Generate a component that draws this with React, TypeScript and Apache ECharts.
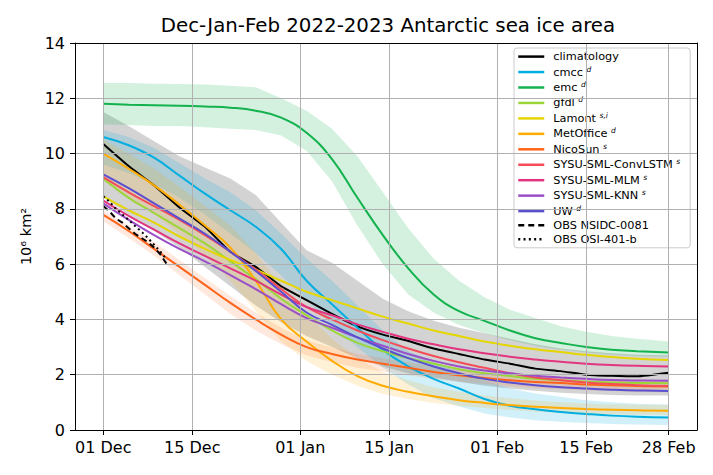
import React, { useEffect, useRef } from 'react';
import * as echarts from 'echarts';

// Day index from 01 Dec (0) to 28 Feb (89)
const DAYS = [0, 4, 8, 12, 16, 20, 24, 28, 32, 36, 40, 44, 48, 52, 56, 60, 64, 68, 72, 76, 80, 84, 89];
const X_TICKS = [0, 14, 31, 45, 62, 76, 89];
const X_TICK_LABELS = ['01 Dec', '15 Dec', '01 Jan', '15 Jan', '01 Feb', '15 Feb', '28 Feb'];

const CLIMATOLOGY = [10.35, 9.55, 8.85, 8.05, 7.35, 6.45, 5.9, 5.2, 4.7, 4.2, 3.75, 3.45, 3.22, 2.95, 2.75, 2.55, 2.4, 2.22, 2.13, 2.0, 1.96, 1.94, 2.07];
const CMCC = [10.6, 10.3, 9.85, 9.2, 8.55, 7.95, 7.35, 6.55, 5.4, 4.55, 3.7, 2.9, 2.3, 1.85, 1.5, 1.12, 0.88, 0.75, 0.65, 0.58, 0.52, 0.48, 0.45];
const EMC = [11.8, 11.77, 11.75, 11.73, 11.7, 11.66, 11.55, 11.3, 10.75, 9.8, 8.4, 7.05, 5.85, 4.9, 4.3, 3.95, 3.6, 3.32, 3.15, 3.0, 2.9, 2.85, 2.8];
const GFDL = [9.1, 8.4, 7.85, 7.3, 6.75, 6.1, 5.45, 4.75, 4.15, 3.6, 3.15, 2.85, 2.6, 2.4, 2.2, 2.05, 1.95, 1.85, 1.8, 1.75, 1.72, 1.7, 1.69];
const LAMONT = [8.45, 7.95, 7.5, 7.0, 6.55, 6.15, 5.8, 5.4, 5.0, 4.7, 4.4, 4.1, 3.85, 3.6, 3.4, 3.2, 3.05, 2.92, 2.82, 2.72, 2.64, 2.58, 2.53];
const METOFFICE = [10.0, 9.45, 8.85, 8.15, 7.4, 6.6, 5.4, 4.0, 3.2, 2.5, 1.95, 1.6, 1.38, 1.22, 1.08, 0.98, 0.9, 0.84, 0.8, 0.76, 0.73, 0.71, 0.7];
const NICOSUN = [7.78, 7.2, 6.55, 5.9, 5.25, 4.6, 4.0, 3.45, 3.0, 2.75, 2.55, 2.4, 2.25, 2.1, 1.98, 1.88, 1.8, 1.74, 1.7, 1.65, 1.62, 1.59, 1.57];
const CONVLSTM = [9.15, 8.6, 8.1, 7.6, 7.05, 6.45, 5.8, 5.1, 4.45, 4.0, 3.6, 3.25, 2.95, 2.68, 2.45, 2.25, 2.05, 1.9, 1.8, 1.72, 1.66, 1.62, 1.59];
const MLM = [8.3, 7.75, 7.25, 6.75, 6.3, 5.85, 5.4, 4.9, 4.45, 4.15, 3.82, 3.55, 3.3, 3.1, 2.92, 2.78, 2.65, 2.55, 2.47, 2.4, 2.35, 2.32, 2.3];
const KNN = [8.2, 7.6, 7.05, 6.55, 6.1, 5.6, 5.1, 4.55, 4.05, 3.7, 3.35, 3.05, 2.75, 2.5, 2.3, 2.15, 2.05, 1.96, 1.9, 1.85, 1.81, 1.79, 1.78];
const UW = [9.25, 8.75, 8.2, 7.65, 7.1, 6.45, 5.75, 5.0, 4.25, 3.8, 3.35, 2.95, 2.6, 2.3, 2.05, 1.85, 1.72, 1.62, 1.55, 1.5, 1.46, 1.43, 1.41];

// Observations (daily, first days of December)
const OBS_DAYS = [0, 1, 2, 3, 4, 5, 6, 7, 8, 9, 10];
const OBS_NSIDC = [8.1, 7.9, 7.65, 7.5, 7.3, 7.1, 6.95, 6.8, 6.6, 6.35, 6.0];
const OBS_OSI = [8.46, 8.25, 8.0, 7.8, 7.6, 7.38, 7.18, 6.95, 6.7, 6.45, 6.15];

// Spread bands (upper / lower)
const CLIM_HI = [11.5, 11.0, 10.45, 9.9, 9.5, 9.1, 8.5, 7.5, 6.5, 6.05, 5.4, 4.75, 4.3, 3.95, 3.7, 3.5, 3.3, 3.1, 2.95, 2.85, 2.78, 2.72, 2.7];
const CLIM_LO = [8.4, 7.8, 7.2, 6.6, 5.9, 5.2, 4.5, 3.9, 3.4, 3.0, 2.6, 2.3, 2.05, 1.9, 1.75, 1.6, 1.5, 1.42, 1.35, 1.3, 1.27, 1.25, 1.25];
const CMCC_HI = [10.85, 10.6, 10.2, 9.65, 9.1, 8.6, 7.95, 7.1, 6.2, 5.4, 4.5, 3.6, 2.85, 2.5, 2.1, 1.8, 1.5, 1.32, 1.2, 1.08, 1.0, 0.95, 0.92];
const CMCC_LO = [9.6, 9.3, 8.9, 8.4, 7.8, 7.1, 6.4, 5.6, 4.7, 3.8, 3.0, 2.25, 1.65, 1.15, 0.85, 0.6, 0.45, 0.35, 0.3, 0.25, 0.22, 0.2, 0.18];
const EMC_HI = [12.55, 12.55, 12.53, 12.52, 12.5, 12.45, 12.4, 12.0, 11.55, 10.9, 9.9, 8.6, 7.3, 6.2, 5.4, 4.8, 4.35, 4.05, 3.75, 3.55, 3.4, 3.3, 3.2];
const EMC_LO = [11.05, 11.03, 11.0, 11.0, 10.95, 10.9, 10.85, 10.65, 10.1, 9.0, 7.4, 6.0, 4.9, 4.25, 3.8, 3.5, 3.25, 3.05, 2.9, 2.8, 2.72, 2.68, 2.65];
const METOFFICE_HI = [10.5, 10.0, 9.45, 8.8, 8.1, 7.4, 6.4, 5.2, 4.2, 3.3, 2.6, 2.1, 1.8, 1.55, 1.38, 1.25, 1.15, 1.07, 1.0, 0.96, 0.93, 0.91, 0.9];
const METOFFICE_LO = [9.0, 8.4, 7.8, 7.1, 6.3, 5.4, 4.3, 3.2, 2.5, 2.0, 1.6, 1.3, 1.12, 0.98, 0.88, 0.8, 0.72, 0.67, 0.62, 0.59, 0.57, 0.55, 0.54];
const NICOSUN_HI = [7.95, 7.4, 6.8, 6.15, 5.5, 4.85, 4.25, 3.7, 3.25, 2.98, 2.76, 2.6, 2.45, 2.3, 2.18, 2.08, 2.0, 1.94, 1.9, 1.85, 1.82, 1.79, 1.77];
const NICOSUN_LO = [7.55, 6.95, 6.3, 5.6, 4.9, 4.2, 3.6, 3.1, 2.7, 2.45, 2.25, 2.12, 1.98, 1.85, 1.75, 1.66, 1.58, 1.52, 1.48, 1.44, 1.41, 1.38, 1.36];

const FONT = 'DejaVu Sans';

const MODELS = [
  { name: 'climatology', data: CLIMATOLOGY, color: '#000000', sup: '' },
  { name: 'cmcc', data: CMCC, color: '#00aee0', sup: 'd' },
  { name: 'emc', data: EMC, color: '#13b24e', sup: 'd' },
  { name: 'gfdl', data: GFDL, color: '#9bd53a', sup: 'd' },
  { name: 'Lamont', data: LAMONT, color: '#e5d600', sup: 's,i' },
  { name: 'MetOffice', data: METOFFICE, color: '#ffab00', sup: 'd' },
  { name: 'NicoSun', data: NICOSUN, color: '#ff6319', sup: 's' },
  { name: 'SYSU-SML-ConvLSTM', data: CONVLSTM, color: '#f44d59', sup: 's' },
  { name: 'SYSU-SML-MLM', data: MLM, color: '#e3357f', sup: 's' },
  { name: 'SYSU-SML-KNN', data: KNN, color: '#9a4fc7', sup: 's' },
  { name: 'UW', data: UW, color: '#5b4fd1', sup: 'd' },
];

const BANDS = [
  { hi: CLIM_HI, lo: CLIM_LO, color: '#808080', opacity: 0.35 },
  { hi: CMCC_HI, lo: CMCC_LO, color: '#00aee0', opacity: 0.18 },
  { hi: EMC_HI, lo: EMC_LO, color: '#13b24e', opacity: 0.19 },
  { hi: METOFFICE_HI, lo: METOFFICE_LO, color: '#ffab00', opacity: 0.16 },
  { hi: NICOSUN_HI, lo: NICOSUN_LO, color: '#ff6319', opacity: 0.14 },
];

const SUPS: Record<string, string> = {};
MODELS.forEach((m) => { SUPS[m.name] = m.sup; });

function pairs(xs: number[], ys: number[]) {
  return ys.map((y, i) => [xs[i], y]);
}

function buildOption() {
  const series: any[] = [];
  BANDS.forEach((b, k) => {
    series.push({
      type: 'custom',
      name: 'band' + k,
      silent: true,
      z: 1,
      data: [[DAYS[0], b.lo[0]]],
      renderItem: (_params: any, api: any) => {
        const pts: number[][] = [];
        for (let i = 0; i < DAYS.length; i++) pts.push(api.coord([DAYS[i], b.hi[i]]));
        for (let i = DAYS.length - 1; i >= 0; i--) pts.push(api.coord([DAYS[i], b.lo[i]]));
        return {
          type: 'polygon',
          shape: { points: pts },
          style: { fill: b.color, opacity: b.opacity },
        };
      },
    });
  });
  MODELS.forEach((m, k) => {
    series.push({
      type: 'line',
      name: m.name,
      data: pairs(DAYS, m.data),
      symbol: 'none',
      showSymbol: false,
      smooth: m.name === 'climatology' ? 0.15 : 0.45,
      z: 3 + k * 0.01,
      lineStyle: { color: m.color, width: 2 },
      itemStyle: { color: m.color },
    });
  });
  series.push({
    type: 'line',
    name: 'OBS NSIDC-0081',
    data: pairs(OBS_DAYS, OBS_NSIDC),
    symbol: 'none',
    showSymbol: false,
    z: 4,
    lineStyle: { color: '#000', width: 2, type: [6, 4] },
    itemStyle: { color: '#000' },
  });
  series.push({
    type: 'line',
    name: 'OBS OSI-401-b',
    data: pairs(OBS_DAYS, OBS_OSI),
    symbol: 'none',
    showSymbol: false,
    z: 4,
    lineStyle: { color: '#000', width: 2, type: [2, 3.3] },
    itemStyle: { color: '#000' },
  });

  const legendNames = MODELS.map((m) => m.name).concat(['OBS NSIDC-0081', 'OBS OSI-401-b']);

  return {
    animation: false,
    backgroundColor: '#ffffff',
    title: {
      text: 'Dec-Jan-Feb 2022-2023 Antarctic sea ice area',
      left: 383,
      textAlign: 'center',
      top: 10,
      textStyle: { fontFamily: FONT, fontSize: 19.8, fontWeight: 'normal', color: '#000' },
    },
    grid: {
      left: 75, right: 16, top: 43, bottom: 45,
    },
    xAxis: [
      {
        type: 'value',
        min: -4.45,
        max: 93.45,
        axisLine: { show: true, onZero: false, lineStyle: { color: '#000', width: 1 } },
        axisTick: { show: true, inside: false, length: 5, customValues: X_TICKS, lineStyle: { color: '#000' } },
        axisLabel: {
          customValues: X_TICKS,
          formatter: (v: number) => X_TICK_LABELS[X_TICKS.indexOf(Math.round(v))] || '',
          fontFamily: FONT, fontSize: 16, color: '#000', margin: 9,
        },
        splitLine: { show: true, lineStyle: { color: '#b0b0b0', width: 1 } },
        z: 10,
      },
      {
        type: 'value',
        position: 'top',
        min: -4.45,
        max: 93.45,
        axisLine: { show: true, onZero: false, lineStyle: { color: '#000', width: 1 } },
        axisTick: { show: false },
        axisLabel: { show: false },
        splitLine: { show: false },
        z: 10,
      },
    ],
    yAxis: [
      {
        type: 'value',
        min: 0,
        max: 14,
        interval: 2,
        name: '10⁶ km²',
        nameLocation: 'middle',
        nameGap: 41,
        nameTextStyle: { fontFamily: FONT, fontSize: 14.5, color: '#000' },
        axisLine: { show: true, onZero: false, lineStyle: { color: '#000', width: 1 } },
        axisTick: { show: true, inside: false, length: 5, lineStyle: { color: '#000' } },
        axisLabel: { fontFamily: FONT, fontSize: 16, color: '#000', margin: 10 },
        splitLine: { show: true, lineStyle: { color: '#b0b0b0', width: 1 } },
        z: 10,
      },
      {
        type: 'value',
        position: 'right',
        min: 0,
        max: 14,
        interval: 2,
        axisLine: { show: true, onZero: false, lineStyle: { color: '#000', width: 1 } },
        axisTick: { show: false },
        axisLabel: { show: false },
        splitLine: { show: false },
        z: 10,
      },
    ],
    legend: {
      orient: 'vertical',
      left: 514,
      top: 48,
      itemWidth: 26,
      itemHeight: 14,
      itemGap: 2.85,
      padding: [3, 10, 3, 3],
      backgroundColor: 'rgba(255,255,255,0.8)',
      borderColor: '#cccccc',
      borderWidth: 1,
      borderRadius: 3,
      data: legendNames,
      itemStyle: { color: 'rgba(0,0,0,0)', borderWidth: 0 },
      lineStyle: { width: 2.5 },
      formatter: (name: string) => {
        const s = SUPS[name];
        return s ? `{n|${name}} {s|${s}}` : `{n|${name}}`;
      },
      textStyle: {
        fontFamily: FONT,
        fontSize: 11.3,
        color: '#000',
        padding: [0, 0, 0, 4],
        rich: {
          n: { fontFamily: FONT, fontSize: 11.3, color: '#000', lineHeight: 14 },
          s: { fontFamily: FONT, fontSize: 7.5, fontStyle: 'italic', color: '#000', lineHeight: 9, verticalAlign: 'top' },
        },
      },
    },
    series,
  };
}

export default function App() {
  const ref = useRef<HTMLDivElement>(null);
  useEffect(() => {
    if (!ref.current) return;
    const chart = echarts.init(ref.current, null, { renderer: 'svg' });
    chart.setOption(buildOption() as any);
    return () => chart.dispose();
  }, []);
  return <div ref={ref} style={{ position: 'absolute', left: 0, top: 0, width: 713, height: 475 }} />;
}
